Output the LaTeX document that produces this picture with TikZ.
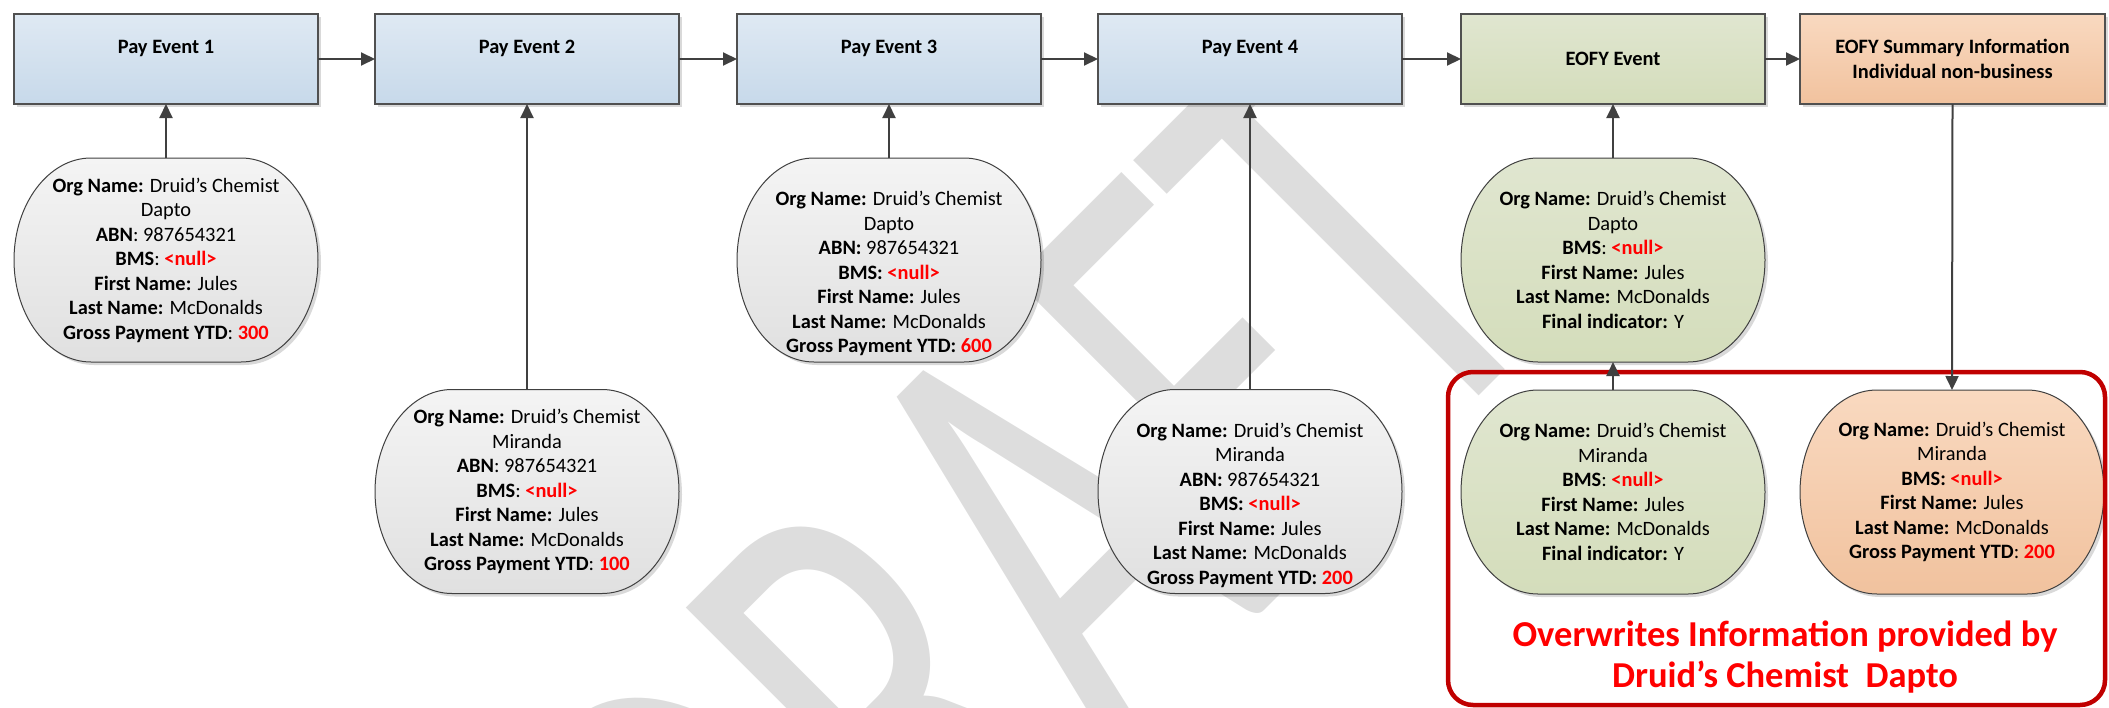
\documentclass[tikz,border=0pt]{standalone}
\usepackage{fontspec}
\setmainfont{Carlito}
\newfontfamily\wmfont[FakeStretch=0.65]{Carlito}
\usetikzlibrary{calc,shadows,arrows.meta}
\pgfdeclarelayer{wm}
\pgfdeclarelayer{bg}
\pgfsetlayers{wm,bg,main}
\definecolor{connc}{HTML}{404040}
\definecolor{boxline}{HTML}{505050}
\definecolor{ellline}{HTML}{404040}
\definecolor{blueT}{RGB}{223,233,243}
\definecolor{blueB}{RGB}{199,217,234}
\definecolor{greenT}{RGB}{224,230,208}
\definecolor{greenB}{RGB}{212,221,187}
\definecolor{orangeT}{RGB}{249,217,192}
\definecolor{orangeB}{RGB}{241,194,158}
\definecolor{grayT}{RGB}{244,244,244}
\definecolor{grayB}{RGB}{224,224,224}
\definecolor{nullred}{RGB}{255,0,0}
\definecolor{framered}{RGB}{192,0,0}
\definecolor{wmgray}{RGB}{221,221,221}
\newcommand\rd[1]{\textcolor{nullred}{\textbf{#1}}}
\newcommand\barrel[2]{%
\begin{pgfonlayer}{bg}
\path[#2] ($(#1.north west)+(77,0)$) -- ($(#1.north east)+(-77,0)$)
  .. controls ($(#1.north east)+(-34.5,0)$) and ($(#1.east)+(0,-56)$) .. (#1.east)
  .. controls ($(#1.east)+(0,56)$) and ($(#1.south east)+(-34.5,0)$) .. ($(#1.south east)+(-77,0)$)
  -- ($(#1.south west)+(77,0)$)
  .. controls ($(#1.south west)+(34.5,0)$) and ($(#1.west)+(0,56)$) .. (#1.west)
  .. controls ($(#1.west)+(0,-56)$) and ($(#1.north west)+(34.5,0)$) .. cycle;
\end{pgfonlayer}}
\tikzset{
  shad/.style={drop shadow={shadow xshift=3pt,shadow yshift=-3pt,fill=black,opacity=0.15}},
  evbox/.style={draw=boxline, line width=1.3pt, minimum width=304pt, minimum height=90pt,
    inner sep=0pt, outer sep=0pt, align=center,
    font=\bfseries\fontsize{20.4pt}{24.5pt}\selectfont, shad},
  toptext/.style={text height=14pt, text depth=25pt},
  bluebox/.style={evbox, toptext, top color=blueT, bottom color=blueB},
  greenbox/.style={evbox, top color=greenT, bottom color=greenB},
  orangebox/.style={evbox, top color=orangeT, bottom color=orangeB},
  barrelnode/.style={minimum width=304pt, minimum height=204pt, inner sep=0pt, outer sep=0pt,
    align=center, font=\fontsize{20.4pt}{24.5pt}\selectfont},
  barrelline/.style={draw=ellline, line width=1pt, shad},
  graybarrel/.style={barrelline, top color=grayT, bottom color=grayB},
  greenbarrel/.style={barrelline, top color=greenT, bottom color=greenB},
  orangebarrel/.style={barrelline, top color=orangeT, bottom color=orangeB},
  connector/.style={draw=connc, line width=2pt, -{Triangle[length=14pt,width=13pt]}},
  redframe/.style={draw=framered, line width=4.5pt, rounded corners=25pt,
    minimum width=657pt, minimum height=333pt, inner sep=0pt, outer sep=0pt},
}
\begin{document}
\begin{tikzpicture}[x=1pt,y=-1pt]
\useasboundingbox (0,0) rectangle (2109,707);

% watermark
\begin{pgfonlayer}{wm}
\begin{scope}
\clip (0,0) rectangle (2109,707);
\node[rotate=45, anchor=base east, text=wmgray, inner sep=0pt,
  font=\wmfont\fontsize{640pt}{640pt}\selectfont] (wm) at (1564,311) {DRAFT};
\end{scope}
\end{pgfonlayer}

% event boxes
\node[bluebox] (pe1) at (166,59) {Pay Event 1};
\node[bluebox] (pe2) at (527,59) {Pay Event 2};
\node[bluebox] (pe3) at (889,59) {Pay Event 3};
\node[bluebox] (pe4) at (1250,59) {Pay Event 4};
\node[greenbox] (eofy) at (1613,59) {EOFY Event};
\node[orangebox, minimum width=305pt] (sum) at (1952.5,59) {EOFY Summary Information\\Individual non-business};

% red frame
\node[redframe] (ow) at (1776.5,538.5) {};

% barrels
\node[barrelnode] (e1) at (166,260) {\textbf{Org Name:} Druid’s Chemist\\Dapto\\\textbf{ABN}: 987654321\\\textbf{BMS}: \rd{<null>}\\\textbf{First Name:} Jules\\\textbf{Last Name:} McDonalds\\\textbf{Gross Payment YTD}: \rd{300}};
\barrel{e1}{graybarrel}
\node[barrelnode] (e2) at (527,491.5) {\textbf{Org Name:} Druid’s Chemist\\Miranda\\\textbf{ABN}: 987654321\\\textbf{BMS}: \rd{<null>}\\\textbf{First Name:} Jules\\\textbf{Last Name:} McDonalds\\\textbf{Gross Payment YTD}: \rd{100}};
\barrel{e2}{graybarrel}
\node[barrelnode] (e3) at (889,260) {\strut\\\textbf{Org Name:} Druid’s Chemist\\Dapto\\\textbf{ABN:} 987654321\\\textbf{BMS:} \rd{<null>}\\\textbf{First Name:} Jules\\\textbf{Last Name:} McDonalds\\\textbf{Gross Payment YTD:} \rd{600}};
\barrel{e3}{graybarrel}
\node[barrelnode] (e4) at (1250,491.5) {\strut\\\textbf{Org Name:} Druid’s Chemist\\Miranda\\\textbf{ABN:} 987654321\\\textbf{BMS:} \rd{<null>}\\\textbf{First Name:} Jules\\\textbf{Last Name:} McDonalds\\\textbf{Gross Payment YTD:} \rd{200}};
\barrel{e4}{graybarrel}
\node[barrelnode] (g1) at (1613,260) {\textbf{Org Name:} Druid’s Chemist\\Dapto\\\textbf{BMS}: \rd{<null>}\\\textbf{First Name:} Jules\\\textbf{Last Name:} McDonalds\\\textbf{Final indicator:} Y};
\barrel{g1}{greenbarrel}
\node[barrelnode] (g2) at (1613,492) {\textbf{Org Name:} Druid’s Chemist\\Miranda\\\textbf{BMS}: \rd{<null>}\\\textbf{First Name:} Jules\\\textbf{Last Name:} McDonalds\\\textbf{Final indicator:} Y};
\barrel{g2}{greenbarrel}
\node[barrelnode] (o1) at (1952,492) {\textbf{Org Name:} Druid’s Chemist\\Miranda\\\textbf{BMS:} \rd{<null>}\\\textbf{First Name:} Jules\\\textbf{Last Name:} McDonalds\\\textbf{Gross Payment YTD}: \rd{200}};
\barrel{o1}{orangebarrel}

% red note
\node[align=center, text=nullred, inner sep=0pt,
  font=\bfseries\fontsize{36.5pt}{41pt}\selectfont] (owt) at (1785,657)
  {Overwrites Information provided by\\Druid’s Chemist\ \ Dapto};

% connectors
\draw[connector] (pe1.east) -- (pe2.west);
\draw[connector] (pe2.east) -- (pe3.west);
\draw[connector] (pe3.east) -- (pe4.west);
\draw[connector] (pe4.east) -- (eofy.west);
\draw[connector] (eofy.east) -- (sum.west);
\draw[connector] (e1.north) -- (pe1.south);
\draw[connector] (e2.north) -- (pe2.south);
\draw[connector] (e3.north) -- (pe3.south);
\draw[connector] (e4.north) -- (pe4.south);
\draw[connector] (g1.north) -- (eofy.south);
\draw[connector] (g2.north) -- (g1.south);
\draw[connector] (sum.south) -- (o1.north);
\end{tikzpicture}
\end{document}
